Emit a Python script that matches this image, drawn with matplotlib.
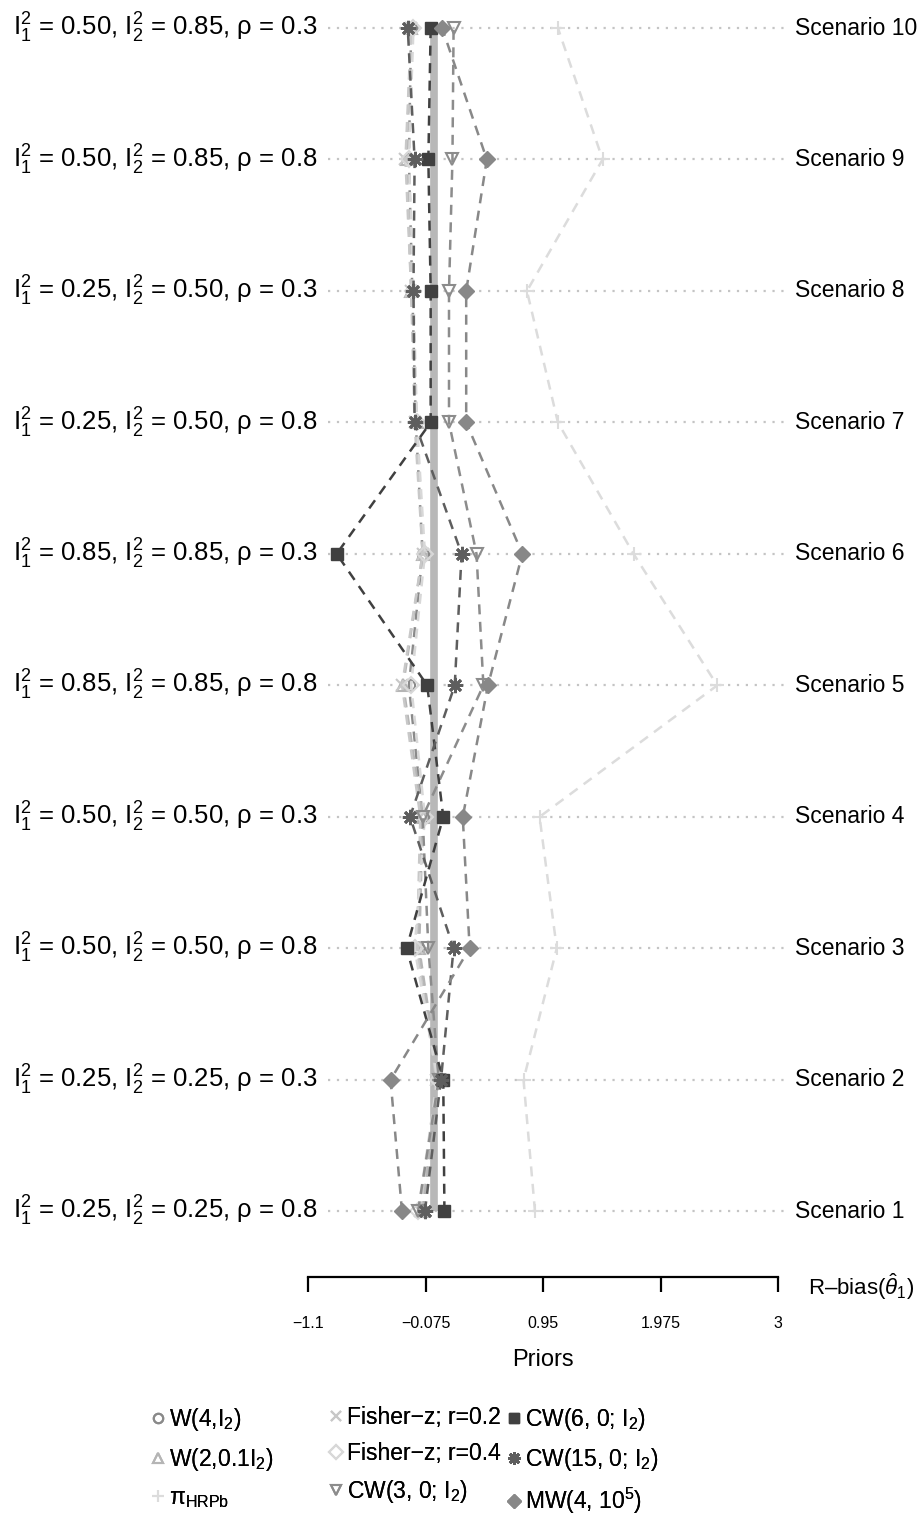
"""Relative bias of theta_1 across ten simulation scenarios, one dashed profile per prior."""

import matplotlib

matplotlib.use("Agg")
import matplotlib.pyplot as plt
from matplotlib.lines import Line2D
from matplotlib.transforms import blended_transform_factory

plt.rcParams["font.family"] = ["Liberation Sans", "DejaVu Sans"]
plt.rcParams["mathtext.fontset"] = "custom"
plt.rcParams["mathtext.rm"] = "Liberation Sans"
plt.rcParams["mathtext.it"] = "Liberation Sans:italic"
plt.rcParams["mathtext.bf"] = "Liberation Sans:bold"

# scenario 1 (bottom) .. scenario 10 (top)
scenarios = list(range(1, 11))
scenario_labels = [f"Scenario {s}" for s in scenarios]
i1 = ["0.25", "0.25", "0.50", "0.50", "0.85", "0.85", "0.25", "0.25", "0.50", "0.50"]
i2 = ["0.25", "0.25", "0.50", "0.50", "0.85", "0.85", "0.50", "0.50", "0.85", "0.85"]
rho = ["0.8", "0.3", "0.8", "0.3", "0.8", "0.3", "0.8", "0.3", "0.8", "0.3"]

prior_names = [
    r"W(4,$\mathregular{I_2}$)",
    r"W(2,0.1$\mathregular{I_2}$)",
    r"π$\mathregular{_{HRPb}}$",
    "Fisher−z; r=0.2",
    "Fisher−z; r=0.4",
    r"CW(3, 0; $\mathregular{I_2}$)",
    r"CW(6, 0; $\mathregular{I_2}$)",
    r"CW(15, 0; $\mathregular{I_2}$)",
    r"MW(4, $\mathregular{10^5}$)",
]

# relative bias, scenario 1 .. 10
rb_w4 = [-0.10, 0.03, -0.14, -0.10, -0.22, -0.10, -0.16, -0.19, -0.22, -0.20]
rb_w2 = [-0.10, 0.04, -0.13, -0.10, -0.27, -0.10, -0.15, -0.20, -0.24, -0.20]
rb_hrpb = [0.88, 0.78, 1.07, 0.92, 2.47, 1.74, 1.08, 0.81, 1.47, 1.08]
rb_fz2 = [-0.12, 0.02, -0.15, -0.12, -0.28, -0.10, -0.17, -0.20, -0.25, -0.20]
rb_fz4 = [-0.14, 0.03, -0.17, -0.08, -0.20, -0.08, -0.15, -0.18, -0.22, -0.18]
rb_cw3 = [-0.14, 0.04, -0.05, -0.10, 0.43, 0.37, 0.13, 0.13, 0.16, 0.17]
rb_cw6 = [0.09, 0.08, -0.24, 0.08, -0.06, -0.85, -0.03, -0.03, -0.05, -0.03]
rb_cw15 = [-0.08, 0.06, 0.17, -0.21, 0.18, 0.24, -0.17, -0.18, -0.17, -0.23]
rb_mw = [-0.28, -0.38, 0.31, 0.25, 0.47, 0.77, 0.28, 0.28, 0.46, 0.07]
rb_all = [rb_w4, rb_w2, rb_hrpb, rb_fz2, rb_fz4, rb_cw3, rb_cw6, rb_cw15, rb_mw]

xticks = [-1.1, -0.075, 0.95, 1.975, 3]
xtick_labels = ["−1.1", "−0.075", "0.95", "1.975", "3"]

styles = [
    dict(marker="o", color="#8a8a8a", mfc="none", mew=1.5, ms=8),
    dict(marker="^", color="#b5b5b5", mfc="none", mew=1.5, ms=8),
    dict(marker="+", color="#dcdcdc", mfc="none", mew=1.5, ms=10),
    dict(marker="x", color="#c8c8c8", mfc="none", mew=1.5, ms=8),
    dict(marker="D", color="#d8d8d8", mfc="none", mew=1.5, ms=8),
    dict(marker="v", color="#8c8c8c", mfc="none", mew=1.5, ms=9),
    dict(marker="s", color="#404040", mfc="#404040", mew=1.0, ms=8),
    dict(marker=(8, 2, 0), color="#5e5e5e", mfc="none", mew=2.0, ms=11),
    dict(marker="D", color="#888888", mfc="#888888", mew=1.0, ms=8),
]

fig = plt.figure(figsize=(9.23, 15.32), dpi=100)
ax = fig.add_axes([308 / 923, 1 - 1277 / 1532, 470 / 923, (1277 - 28) / 1532])
ax.set_xlim(-1.1, 3)
ax.set_ylim(0.5, 10)

ax.hlines(scenarios, 0.043, 1.015, transform=ax.get_yaxis_transform(),
          colors="#c4c4c4", linestyles=(0, (1, 3)), linewidth=1.6, clip_on=False, zorder=1)
ax.plot([0, 0], [1, 10], color="#b8b8b8", linewidth=5.5, solid_capstyle="butt", zorder=2)

for vals, st in zip(rb_all, styles):
    ax.plot(vals, scenarios, linestyle=(0, (4, 3)), linewidth=1.8, color=st["color"],
            marker=st["marker"], markersize=st["ms"], markerfacecolor=st["mfc"],
            markeredgecolor=st["color"], markeredgewidth=st["mew"], clip_on=False, zorder=3)

for side in ["left", "right", "top"]:
    ax.spines[side].set_visible(False)
ax.spines["bottom"].set_bounds(-1.1, 3)
ax.spines["bottom"].set_linewidth(1.6)
ax.set_yticks([])
ax.set_xticks(xticks)
ax.set_xticklabels(xtick_labels)
ax.tick_params(axis="x", direction="out", length=11, width=1.6, pad=17, labelsize=11.5)
ax.set_xlabel("Priors", fontsize=17, labelpad=13)

lab_tr = blended_transform_factory(fig.transFigure, ax.transData)
for s, a, b, r in zip(scenarios, i1, i2, rho):
    ax.text(318 / 923, s,
            rf"$\mathregular{{I_1^2}}$ = {a}, $\mathregular{{I_2^2}}$ = {b}, ρ = {r}",
            transform=lab_tr, ha="right", va="center", fontsize=18.5)
for s, lab in zip(scenarios, scenario_labels):
    ax.text(795 / 923, s, lab, transform=lab_tr, ha="left", va="center", fontsize=16.5)

fig.text(808 / 923, 1 - 1287 / 1532, r"R–bias($\hat{\theta}_1$)", ha="left", va="center",
         fontsize=16)

handles = [
    Line2D([], [], linestyle="none", marker=st["marker"], markersize=st["ms"] * 0.85,
           color=st["color"], markerfacecolor=st["mfc"], markeredgecolor=st["color"],
           markeredgewidth=st["mew"])
    for st in styles
]
# R-style legend: each column sized to its own text, so one legend per column
col_x = [140, 318, 496]
for c, x0 in enumerate(col_x):
    leg = fig.legend(handles[3 * c:3 * c + 3], prior_names[3 * c:3 * c + 3], loc="upper left",
                     bbox_to_anchor=(x0 / 923, 1 - 1395 / 1532), frameon=False, fontsize=16.5,
                     handlelength=0.6, handletextpad=0.15, labelspacing=0.55, borderpad=0)
    fig.add_artist(leg)

fig.savefig("out.png", dpi=100)
